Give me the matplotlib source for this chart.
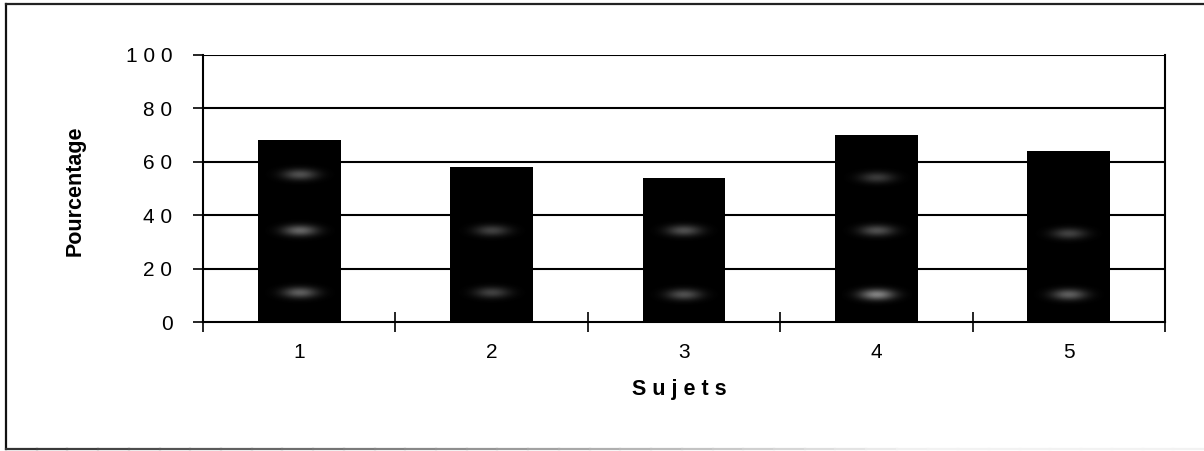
import numpy as np
import matplotlib
matplotlib.use("Agg")
import matplotlib.pyplot as plt
from matplotlib.lines import Line2D

# Data
sujets = ["1", "2", "3", "4", "5"]
pourcentage = [68, 58, 54, 70, 64]
y_ticks = [0, 20, 40, 60, 80, 100]
y_tick_labels = ["0", "2 0", "4 0", "6 0", "8 0", "1 0 0"]

# Light speckle spots inside the bars: (bar index, height, strength)
spots = [(0, 55, 0.55), (0, 34, 0.7), (0, 11, 0.65),
         (1, 34, 0.45), (1, 11, 0.45),
         (2, 34, 0.55), (2, 10, 0.55),
         (3, 54, 0.4), (3, 34, 0.55), (3, 10, 0.9),
         (4, 33, 0.45), (4, 10, 0.65)]

plt.rcParams["font.family"] = ["Liberation Sans", "DejaVu Sans"]

W, H = 1204, 451
fig = plt.figure(figsize=(W / 100, H / 100), dpi=100)
fig.patch.set_facecolor("white")

def fx(px):
    return px / W

def fy(py):
    return 1 - py / H

# Outer chart border
fig.add_artist(Line2D([fx(6), fx(6)], [fy(4), fy(449)], color="#111111", lw=1.6,
                      transform=fig.transFigure))
fig.add_artist(Line2D([fx(6), fx(1204)], [fy(4), fy(4)], color="#222222", lw=1.6,
                      transform=fig.transFigure))
segs = np.linspace(6, 1204, 40)
for i in range(len(segs) - 1):
    shade = min(0.2 + 0.75 * (segs[i] - 6) / 900, 0.95)
    fig.add_artist(Line2D([fx(segs[i]), fx(segs[i + 1])], [fy(449), fy(449)],
                          color=str(shade), lw=1.6, transform=fig.transFigure))

left, right, top, bottom = 203, 1165, 55, 322
ax = fig.add_axes([fx(left), fy(bottom), fx(right - left), (bottom - top) / H])

x = np.arange(len(sujets))
bar_w = 0.43
ax.bar(x, pourcentage, width=bar_w, color="black", zorder=3)

# Soft grey speckle highlights on the bars
yy, xx = np.mgrid[-1:1:61j, -1:1:121j]
blob = np.exp(-(xx ** 2 / 0.5 + yy ** 2 / 0.4) * 2.0)
grain = 0.75 + 0.25 * np.sin(xx * 173.0 + yy * 91.0) * np.cos(xx * 57.0 - yy * 211.0)
for i, h, s in spots:
    rgba = np.zeros(blob.shape + (4,))
    rgba[..., :3] = 0.75
    rgba[..., 3] = np.clip(blob * grain * s, 0, 1)
    ax.imshow(rgba, extent=(i - 0.18, i + 0.18, h - 4.5, h + 4.5),
              aspect="auto", interpolation="bilinear", zorder=4)

ax.set_xlim(-0.5, len(sujets) - 0.5)
ax.set_ylim(0, 100)

# Gridlines
for yv in y_ticks[1:]:
    ax.axhline(yv, color="black", lw=1.5, zorder=2)

for side in ["left", "bottom", "right"]:
    ax.spines[side].set_color("black")
    ax.spines[side].set_linewidth(1.5)
ax.spines["top"].set_visible(False)

ax.set_yticks(y_ticks)
ax.set_yticklabels(y_tick_labels, fontsize=15)
ax.tick_params(axis="y", direction="out", length=7, width=1.2, pad=15)

ax.set_xticks(np.arange(len(sujets) + 1) - 0.5)
ax.set_xticklabels([])
ax.tick_params(axis="x", which="major", direction="inout", length=14, width=1.2)
ax.set_xticks(x, minor=True)
ax.set_xticklabels(sujets, minor=True, fontsize=15)
ax.tick_params(axis="x", which="minor", length=0, pad=15)

fig.text(fx(679), fy(389), "S u j e t s", ha="center", va="center",
         fontsize=15.5, fontweight="bold")
fig.text(fx(75), fy(191), "Pourcentage", ha="center", va="center",
         rotation=90, fontsize=15.5, fontweight="bold")

ax.set_facecolor("white")

fig.savefig("out.png", dpi=100, facecolor="white")
